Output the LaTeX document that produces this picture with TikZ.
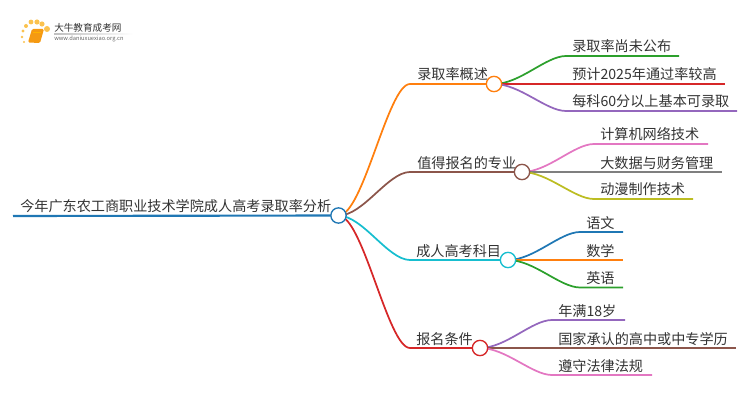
\documentclass[tikz,border=0pt]{standalone}
\usepackage{fontspec}
\setmainfont{Noto Sans CJK SC}
\usepackage{tikz}
\definecolor{cblue}{HTML}{1F77B4}
\definecolor{corange}{HTML}{FF7F0E}
\definecolor{cgreen}{HTML}{2CA02C}
\definecolor{cred}{HTML}{D62728}
\definecolor{cpurple}{HTML}{9467BD}
\definecolor{cbrown}{HTML}{8C564B}
\definecolor{cpink}{HTML}{E377C2}
\definecolor{cgray}{HTML}{7F7F7F}
\definecolor{colive}{HTML}{BCBD22}
\definecolor{ccyan}{HTML}{17BECF}
\definecolor{ctext}{HTML}{333333}
\definecolor{cdot}{HTML}{FBC24E}
\definecolor{cbook}{HTML}{F59A12}
\tikzset{
  hub/.style={circle,draw=#1,fill=white,line width=1pt,minimum size=11.5pt,inner sep=0pt},
  label/.style={anchor=base west,inner sep=0pt,text=ctext,font=\fontsize{10.6pt}{10.6pt}\selectfont},
  limb/.style={line width=1.3pt,#1},
}
\begin{document}
\begin{tikzpicture}[x=0.75pt,y=-0.75pt]
  \useasboundingbox (0,0) rectangle (750,410);

  \coordinate (r0) at (13,216);
  \coordinate (a0) at (410,84);
  \coordinate (b0) at (410,172);
  \coordinate (c0) at (410,260);
  \coordinate (d0) at (410,348);
  \coordinate (root1) at (338.5,215.5);
  \coordinate (ahub) at (494,84);
  \coordinate (bhub) at (522,172);
  \coordinate (chub) at (508,260);
  \coordinate (dhub) at (480,348);

  \draw[limb=corange] (root1) .. controls (363,216) and (388,84) .. (a0) -- (ahub);
  \draw[limb=cbrown] (root1) .. controls (363,216) and (388,172) .. (b0) -- (bhub);
  \draw[limb=ccyan] (root1) .. controls (363,216) and (388,260) .. (c0) -- (chub);
  \draw[limb=cred] (root1) .. controls (363,216) and (388,348) .. (d0) -- (dhub);
  \draw[limb=cblue,line width=1.6pt] (r0) -- (root1);

  \node[label] (tr) at (20,211) {今年广东农工商职业技术学院成人高考录取率分析};
  \node[label] (ta) at (417,80) {录取率概述};
  \node[label] (tb) at (417,168) {值得报名的专业};
  \node[label] (tc) at (416,256) {成人高考科目};
  \node[label] (td) at (416,344) {报名条件};

  \coordinate (a1) at (566,56);
  \coordinate (a1e) at (679,56);
  \coordinate (a2e) at (725,84);
  \coordinate (a3) at (566,111);
  \coordinate (a3e) at (737,111);
  \draw[limb=cgreen] (ahub) .. controls (520,84) and (546,56) .. (a1) -- (a1e);
  \draw[limb=cred] (ahub) -- (a2e);
  \draw[limb=cpurple] (ahub) .. controls (520,84) and (546,111) .. (a3) -- (a3e);
  \node[label] (ta1) at (572,52) {录取率尚未公布};
  \node[label] (ta2) at (572,80) {预计2025年通过率较高};
  \node[label] (ta3) at (572,107) {每科60分以上基本可录取};

  \coordinate (b1) at (594,144);
  \coordinate (b1e) at (708,144);
  \coordinate (b2e) at (722,172);
  \coordinate (b3) at (594,199);
  \coordinate (b3e) at (693,199);
  \draw[limb=cpink] (bhub) .. controls (548,172) and (574,144) .. (b1) -- (b1e);
  \draw[limb=cgray] (bhub) -- (b2e);
  \draw[limb=colive] (bhub) .. controls (548,172) and (574,199) .. (b3) -- (b3e);
  \node[label] (tb1) at (600,140) {计算机网络技术};
  \node[label] (tb2) at (600,168) {大数据与财务管理};
  \node[label] (tb3) at (600,195) {动漫制作技术};

  \coordinate (c1) at (580,232);
  \coordinate (c1e) at (623,232);
  \coordinate (c2e) at (623,260);
  \coordinate (c3) at (580,287.5);
  \coordinate (c3e) at (623,287.5);
  \draw[limb=cblue] (chub) .. controls (534,260) and (560,232) .. (c1) -- (c1e);
  \draw[limb=corange] (chub) -- (c2e);
  \draw[limb=cgreen] (chub) .. controls (534,260) and (560,287.5) .. (c3) -- (c3e);
  \node[label] (tc1) at (586,228) {语文};
  \node[label] (tc2) at (586,256) {数学};
  \node[label] (tc3) at (586,283.5) {英语};

  \coordinate (d1) at (552,320);
  \coordinate (d1e) at (625,320);
  \coordinate (d2e) at (736,348);
  \coordinate (d3) at (552,375);
  \coordinate (d3e) at (652,375);
  \draw[limb=cpurple] (dhub) .. controls (506,348) and (532,320) .. (d1) -- (d1e);
  \draw[limb=cbrown] (dhub) -- (d2e);
  \draw[limb=cpink] (dhub) .. controls (506,348) and (532,375) .. (d3) -- (d3e);
  \node[label] (td1) at (558,316) {年满18岁};
  \node[label] (td2) at (558,344) {国家承认的高中或中专学历};
  \node[label] (td3) at (558,371) {遵守法律法规};

  \node[hub=cblue] (root) at (root1) {};
  \node[hub=corange] (a) at (ahub) {};
  \node[hub=cbrown] (b) at (bhub) {};
  \node[hub=ccyan] (c) at (chub) {};
  \node[hub=cred] (d) at (dhub) {};

  \foreach \spot/\rad in {(26,26)/2,(31,22)/2.4,(37,22)/2.6,(42,24)/2.6,(47,29)/3,(23,31)/1.6,(22,37)/1.4,(24,42)/1.2}
    \fill[cdot] \spot circle (\rad);
  \fill[cbook,rounded corners=1pt] (32,29) -- (44,29) -- (40,43) -- (28,42.5) -- cycle;
  \draw[orange!60!yellow,line width=0.5pt] (33,32) -- (41,32);
  \shade[left color=black!25,right color=white] (54,33.5) rectangle (133,34.5);
  \node[anchor=base west,inner sep=0pt,text=ctext,font=\fontsize{7.2pt}{7.2pt}\selectfont] (logo) at (54,31.5) {大牛教育成考网};
  \node[anchor=base west,inner sep=0pt,text=black!60,font=\fontsize{4.3pt}{4.3pt}\selectfont] (url) at (54,41) {www.daniuxuexiao.org.cn};
\end{tikzpicture}
\end{document}
